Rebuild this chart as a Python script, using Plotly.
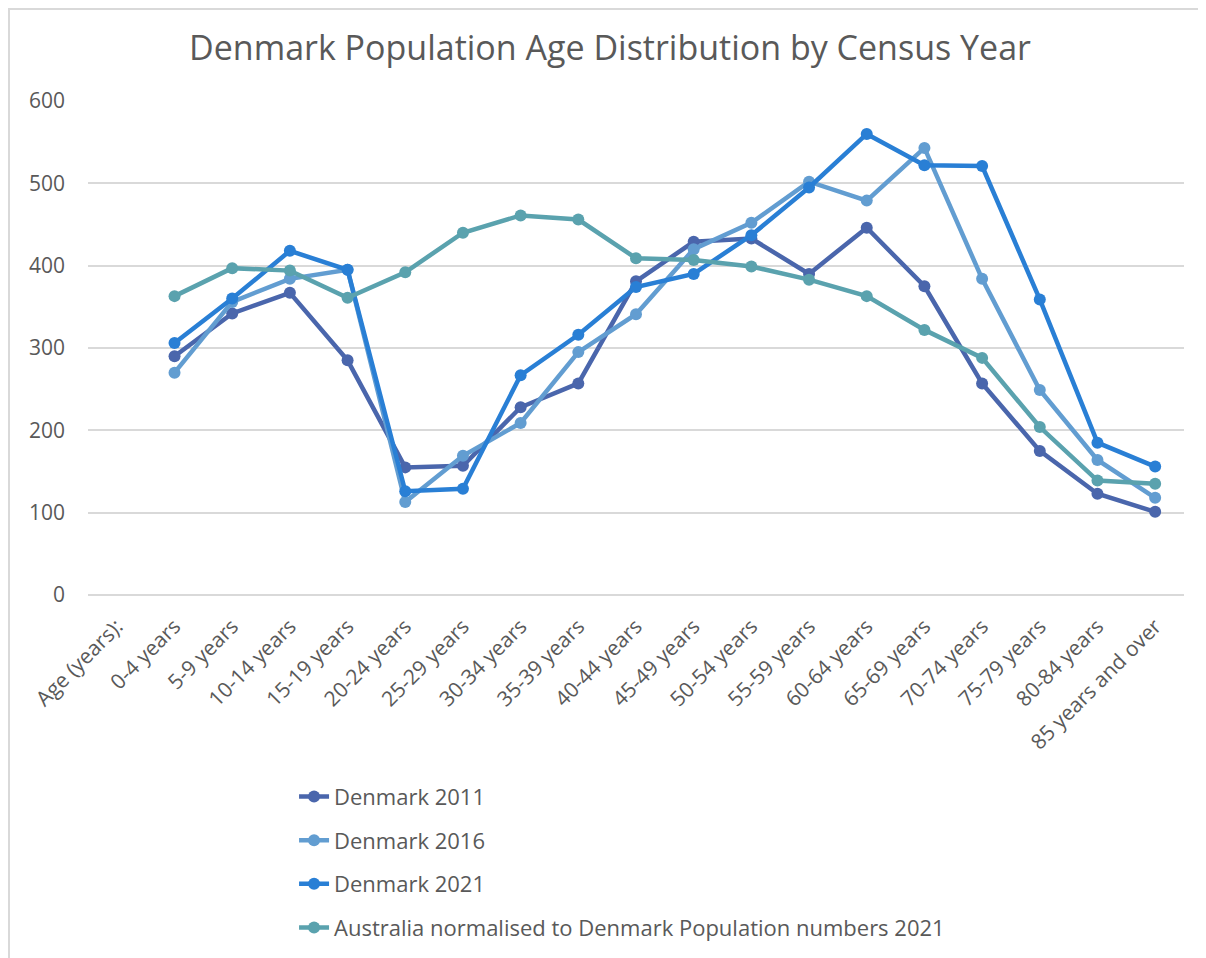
import plotly.graph_objects as go

categories = ["Age (years):", "0-4 years", "5-9 years", "10-14 years", "15-19 years",
              "20-24 years", "25-29 years", "30-34 years", "35-39 years", "40-44 years",
              "45-49 years", "50-54 years", "55-59 years", "60-64 years", "65-69 years",
              "70-74 years", "75-79 years", "80-84 years", "85 years and over"]

denmark_2011 = [None, 290, 342, 367, 285, 155, 157, 228, 257, 381, 429, 433, 390, 446, 375, 257, 175, 123, 101]
denmark_2016 = [None, 270, 356, 384, 395, 113, 169, 209, 295, 341, 420, 452, 502, 479, 543, 384, 249, 164, 118]
denmark_2021 = [None, 306, 360, 418, 395, 126, 129, 267, 316, 374, 390, 437, 495, 560, 522, 521, 359, 185, 156]
australia_norm = [None, 363, 397, 394, 361, 392, 440, 461, 456, 409, 407, 399, 383, 363, 322, 288, 204, 139, 135]

series = [
    ("Denmark 2011", denmark_2011, "#4A66AC"),
    ("Denmark 2016", denmark_2016, "#629DD1"),
    ("Denmark 2021", denmark_2021, "#297FD5"),
    ("Australia normalised to Denmark Population numbers 2021", australia_norm, "#5AA2AE"),
]

fig = go.Figure()
for name, vals, color in series:
    fig.add_trace(go.Scatter(
        x=categories, y=vals, name=name, mode="lines+markers",
        line=dict(color=color, width=4.5),
        marker=dict(color=color, size=12),
        legendgroup=name,
    ))

font_color = "#595959"
W, H = 1198, 950
L, R, T, B = 80, 22, 93, 363
pw, ph = W - L - R, H - T - B

fig.update_layout(
    width=W, height=H,
    paper_bgcolor="white", plot_bgcolor="white",
    font=dict(family="Open Sans", color=font_color, size=21),
    title=dict(text="Denmark Population Age Distribution by Census Year",
               x=0.5025, xanchor="center", y=0.958, yanchor="middle",
               font=dict(size=34, color=font_color, family="Open Sans")),
    margin=dict(l=L, r=R, t=T, b=B, autoexpand=False),
    showlegend=True,
    legend=dict(x=0.188, xanchor="left", y=-0.366, yanchor="top",
                orientation="v", tracegroupgap=12,
                font=dict(size=22, color=font_color),
                bgcolor="rgba(0,0,0,0)"),
    xaxis=dict(type="category", categoryorder="array", categoryarray=categories,
               range=[-0.5, len(categories) - 0.5],
               tickangle=-45, tickfont=dict(size=21, color=font_color),
               showgrid=False, showline=False, zeroline=False, ticks="",
               ticklabelstandoff=14, automargin=False),
    yaxis=dict(range=[0, 600], dtick=100, tickfont=dict(size=21, color=font_color),
               gridcolor="#D9D9D9", gridwidth=1.5, zeroline=True, zerolinecolor="#D9D9D9",
               zerolinewidth=1.5, showline=False, ticks="", ticklabelstandoff=22,
               automargin=False),
    shapes=[
        dict(type="line", xref="paper", yref="paper", x0=-L / pw, x1=1 + R / pw,
             y0=1 + (T - 1) / ph, y1=1 + (T - 1) / ph, line=dict(color="#D9D9D9", width=2)),
        dict(type="line", xref="paper", yref="paper", x0=-(L - 1) / pw, x1=-(L - 1) / pw,
             y0=1 + T / ph, y1=-B / ph, line=dict(color="#D9D9D9", width=2)),
    ],
)

fig.write_html("out.html")
